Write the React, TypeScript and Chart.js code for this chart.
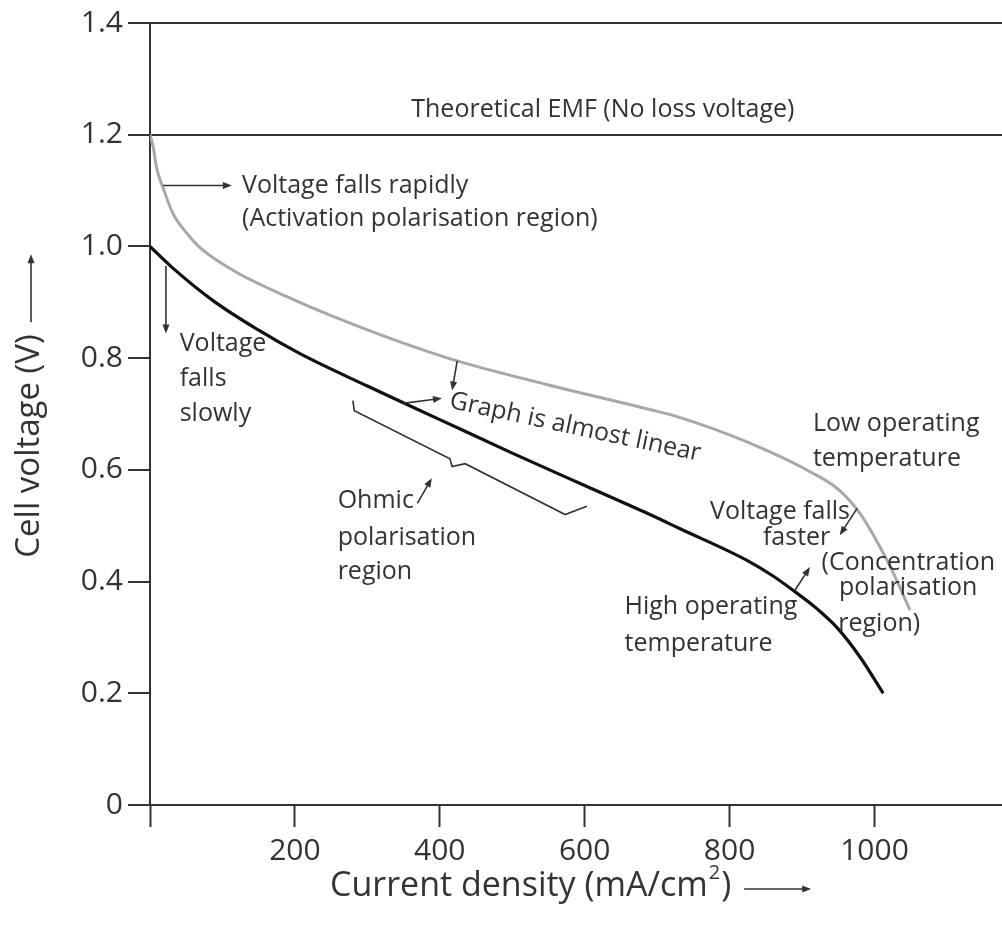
import React, { useEffect, useRef } from "react";
import { Chart, registerables } from "chart.js";

Chart.register(...registerables);

// ---- Data ----
const lowTempCurrent = [0, 4.6, 9, 18, 32, 50, 69, 115, 189, 250, 322, 424, 550, 690, 731, 824, 915, 952, 980, 1008, 1026, 1049];
const lowTempVoltage = [1.2, 1.177, 1.141, 1.105, 1.058, 1.025, 0.998, 0.957, 0.91, 0.876, 0.84, 0.795, 0.752, 0.708, 0.694, 0.65, 0.594, 0.563, 0.522, 0.461, 0.415, 0.349];

const highTempCurrent = [0, 30, 87, 150, 207, 300, 400, 500, 600, 690, 731, 824, 860, 888, 920, 948, 980, 1012];
const highTempVoltage = [1.0, 0.963, 0.903, 0.85, 0.808, 0.75, 0.69, 0.63, 0.572, 0.52, 0.495, 0.438, 0.41, 0.384, 0.352, 0.318, 0.265, 0.2];

const xTickValues = [0, 200, 400, 600, 800, 1000];
const xTickLabels = ["", "200", "400", "600", "800", "1000"];
const yTickValues = [0, 0.2, 0.4, 0.6, 0.8, 1.0, 1.2, 1.4];
const yTickLabels = ["0", "0.2", "0.4", "0.6", "0.8", "1.0", "1.2", "1.4"];

const xAxisTitle = "Current density (mA/cm";
const xAxisSup = "2";
const xAxisTitleEnd = ")";
const yAxisTitle = "Cell voltage (V)";

// Text notes, positioned in data units: [text, x, y, align]
const textNotes: [string, number, number, CanvasTextAlign][] = [
  ["Theoretical EMF (No loss voltage)", 625, 1.244, "center"],
  ["Voltage falls rapidly", 127, 1.109, "left"],
  ["(Activation polarisation region)", 127, 1.05, "left"],
  ["Voltage", 41, 0.826, "left"],
  ["falls", 41, 0.763, "left"],
  ["slowly", 41, 0.701, "left"],
  ["Ohmic", 259, 0.545, "left"],
  ["polarisation", 259, 0.479, "left"],
  ["region", 259, 0.418, "left"],
  ["Low operating", 915, 0.683, "left"],
  ["temperature", 915, 0.62, "left"],
  ["Voltage falls", 773, 0.524, "left"],
  ["faster", 846, 0.479, "left"],
  ["(Concentration", 927, 0.433, "left"],
  ["polarisation", 951, 0.388, "left"],
  ["region)", 950, 0.325, "left"],
  ["High operating", 655, 0.354, "left"],
  ["temperature", 655, 0.288, "left"],
];
const slantedNote = { text: "Graph is almost linear", x: 587, y: 0.676, angleDeg: 12 };

// Arrows: [x0, y0, x1, y1] head at (x1, y1)
const arrowNotes: [number, number, number, number][] = [
  [18, 1.109, 113, 1.109],
  [22, 0.965, 22, 0.844],
  [424, 0.795, 417, 0.742],
  [349, 0.719, 403, 0.728],
  [369, 0.54, 389, 0.585],
  [976, 0.531, 952, 0.483],
  [890, 0.384, 911, 0.426],
];
const braceX = [280, 282, 414, 417, 435, 573, 603];
const braceY = [0.724, 0.706, 0.62, 0.606, 0.611, 0.52, 0.535];

const FONT = '"Open Sans", "DejaVu Sans", sans-serif';
const INK = "#333333";

function drawArrow(ctx: CanvasRenderingContext2D, x0: number, y0: number, x1: number, y1: number) {
  const ang = Math.atan2(y1 - y0, x1 - x0);
  const len = 9;
  const half = 3.5;
  ctx.beginPath();
  ctx.moveTo(x0, y0);
  ctx.lineTo(x1 - Math.cos(ang) * len * 0.6, y1 - Math.sin(ang) * len * 0.6);
  ctx.stroke();
  ctx.beginPath();
  ctx.moveTo(x1, y1);
  ctx.lineTo(x1 - Math.cos(ang) * len - Math.sin(ang) * half, y1 - Math.sin(ang) * len + Math.cos(ang) * half);
  ctx.lineTo(x1 - Math.cos(ang) * len + Math.sin(ang) * half, y1 - Math.sin(ang) * len - Math.cos(ang) * half);
  ctx.closePath();
  ctx.fill();
}

const notesPlugin = {
  id: "notes",
  afterDatasetsDraw(chart: any) {
    const { ctx, scales, chartArea } = chart;
    const X = (v: number) => scales.x.getPixelForValue(v);
    const Y = (v: number) => scales.y.getPixelForValue(v);
    ctx.save();
    ctx.fillStyle = INK;
    ctx.strokeStyle = INK;
    ctx.font = `25px ${FONT}`;
    ctx.textBaseline = "middle";
    for (const [t, x, y, a] of textNotes) {
      ctx.textAlign = a;
      ctx.fillText(t, X(x), Y(y));
    }
    ctx.save();
    ctx.translate(X(slantedNote.x), Y(slantedNote.y));
    ctx.rotate((slantedNote.angleDeg * Math.PI) / 180);
    ctx.textAlign = "center";
    ctx.fillText(slantedNote.text, 0, 0);
    ctx.restore();

    ctx.lineWidth = 1.6;
    for (const [x0, y0, x1, y1] of arrowNotes) {
      drawArrow(ctx, X(x0), Y(y0), X(x1), Y(y1));
    }
    ctx.beginPath();
    braceX.forEach((bx, i) => {
      const px = X(bx), py = Y(braceY[i]);
      if (i === 0) ctx.moveTo(px, py);
      else ctx.lineTo(px, py);
    });
    ctx.stroke();

    // Axis titles with arrows
    const big = `34px ${FONT}`;
    const small = `20px ${FONT}`;
    ctx.font = big;
    ctx.textAlign = "left";
    ctx.textBaseline = "middle";
    const w1 = ctx.measureText(xAxisTitle).width;
    ctx.font = small;
    const w2 = ctx.measureText(xAxisSup).width;
    ctx.font = big;
    const w3 = ctx.measureText(xAxisTitleEnd).width;
    const total = w1 + w2 + 2 + w3;
    const tx = 330;
    const ty = chartArea.bottom + 81;
    ctx.fillText(xAxisTitle, tx, ty);
    ctx.font = small;
    ctx.fillText(xAxisSup, tx + w1 + 1, ty - 13);
    ctx.font = big;
    ctx.fillText(xAxisTitleEnd, tx + w1 + w2 + 2, ty);
    ctx.lineWidth = 1.6;
    drawArrow(ctx, tx + total + 13, ty + 3, tx + total + 80, ty + 3);

    ctx.font = `33px ${FONT}`;
    ctx.save();
    ctx.translate(30, 446);
    ctx.rotate(-Math.PI / 2);
    ctx.textAlign = "center";
    ctx.fillText(yAxisTitle, 0, 0);
    const yw = ctx.measureText(yAxisTitle).width;
    drawArrow(ctx, yw / 2 + 12, 1, yw / 2 + 80, 1);
    ctx.restore();

    ctx.restore();
  },
};

export default function App() {
  const ref = useRef<HTMLCanvasElement | null>(null);
  useEffect(() => {
    if (!ref.current) return;
    const chart = new Chart(ref.current, {
      type: "line",
      data: {
        datasets: [
          {
            label: "Low operating temperature",
            data: lowTempCurrent.map((x, i) => ({ x, y: lowTempVoltage[i] })),
            borderColor: "#a8a8a8",
            borderWidth: 3,
            pointRadius: 0,
            fill: false,
            cubicInterpolationMode: "monotone",
          },
          {
            label: "High operating temperature",
            data: highTempCurrent.map((x, i) => ({ x, y: highTempVoltage[i] })),
            borderColor: "#111111",
            borderWidth: 3.2,
            pointRadius: 0,
            fill: false,
            cubicInterpolationMode: "monotone",
          },
        ],
      },
      options: {
        animation: false,
        responsive: true,
        maintainAspectRatio: false,
        layout: { padding: { top: 22, left: 0, right: 0, bottom: 0 } },
        plugins: { legend: { display: false }, tooltip: { enabled: false } },
        scales: {
          x: {
            type: "linear",
            min: 0,
            max: 1176,
            afterBuildTicks: (s: any) => {
              s.ticks = xTickValues.map((v) => ({ value: v }));
            },
            afterFit: (s: any) => {
              s.height = 127;
            },
            ticks: {
              callback: (_v: any, i: number) => xTickLabels[i],
              color: INK,
              font: { family: FONT, size: 30 },
              padding: 6,
              maxRotation: 0,
              autoSkip: false,
            },
            grid: { drawOnChartArea: false, tickLength: 22, tickColor: INK, tickWidth: 2 },
            border: { color: INK, width: 2 },
          },
          y: {
            type: "linear",
            min: 0,
            max: 1.4,
            afterBuildTicks: (s: any) => {
              s.ticks = yTickValues.map((v) => ({ value: v }));
            },
            afterFit: (s: any) => {
              s.width = 150;
            },
            ticks: {
              callback: (_v: any, i: number) => yTickLabels[i],
              color: INK,
              font: { family: FONT, size: 30 },
              padding: 5,
              autoSkip: false,
            },
            grid: {
              tickLength: 22,
              tickColor: INK,
              tickWidth: 2,
              lineWidth: 2,
              color: (c: any) => (c.tick && c.tick.value >= 1.19 ? INK : "rgba(0,0,0,0)"),
            },
            border: { color: INK, width: 2 },
          },
        },
      },
      plugins: [notesPlugin],
    } as any);
    return () => chart.destroy();
  }, []);
  return (
    <div style={{ position: "fixed", left: 0, top: 0, width: 1002, height: 932, background: "#fff" }}>
      <canvas ref={ref} />
    </div>
  );
}
